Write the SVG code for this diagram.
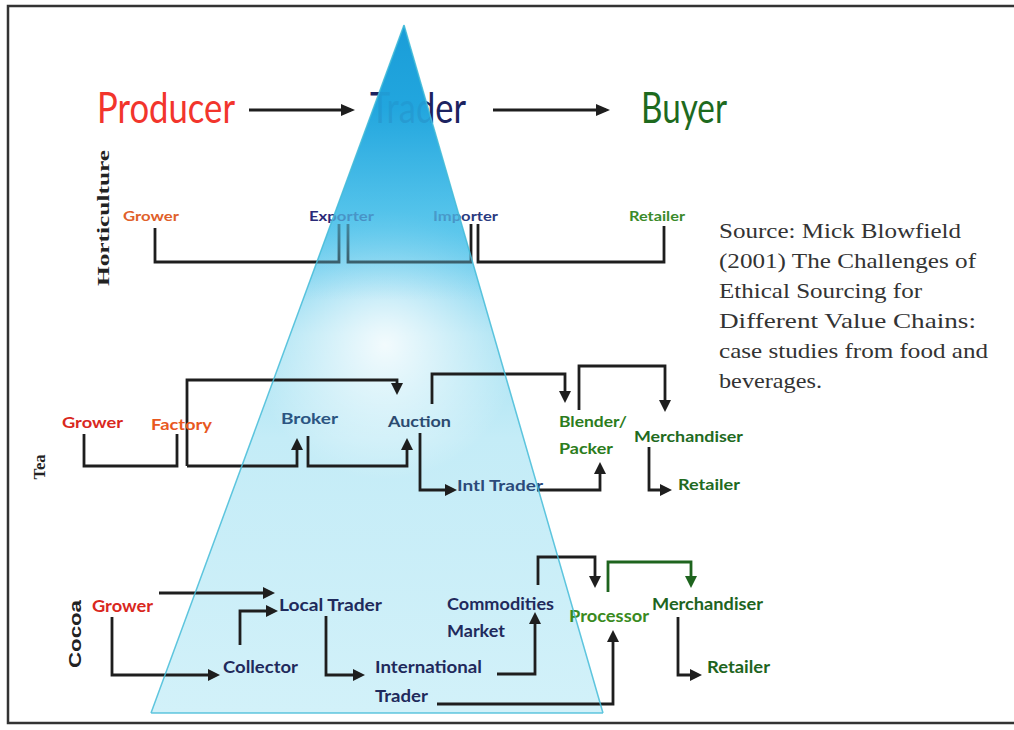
<svg xmlns="http://www.w3.org/2000/svg" width="1014" height="730" viewBox="0 0 1014 730">
<defs>
<style>
.n{font-family:Lato,"Liberation Sans",sans-serif;font-weight:bold}
.h{font-family:Lato,"Liberation Sans",sans-serif;font-size:42px}
.src{font-family:"Liberation Serif","Times New Roman",serif;font-size:21px;fill:#333}
.c{fill:none;stroke:#1e1e1e;stroke-width:2.8;stroke-linejoin:miter}
.g{fill:none;stroke:#1e641e;stroke-width:2.8}
.lbl{font-family:"Liberation Serif","Times New Roman",serif;font-weight:bold;fill:#222}
</style>
<marker id="ah" markerWidth="12" markerHeight="12" refX="8" refY="6" orient="auto" markerUnits="userSpaceOnUse"><path d="M0,0 L12,6 L0,12 Z" fill="#1e1e1e"/></marker>
<marker id="ahg" markerWidth="12" markerHeight="12" refX="8" refY="6" orient="auto" markerUnits="userSpaceOnUse"><path d="M0,0 L12,6 L0,12 Z" fill="#1e641e"/></marker>
<marker id="ahL" markerWidth="14" markerHeight="14" refX="10" refY="7" orient="auto" markerUnits="userSpaceOnUse"><path d="M0,1 L14,7 L0,13 Z" fill="#1e1e1e"/></marker>
<linearGradient id="triBg" x1="0" y1="25" x2="0" y2="713" gradientUnits="userSpaceOnUse">
<stop offset="0" stop-color="#1a9dd8"/>
<stop offset="0.12" stop-color="#22a6de"/>
<stop offset="0.3" stop-color="#5ac6ec"/>
<stop offset="0.45" stop-color="#a8e2f3"/>
<stop offset="0.6" stop-color="#c4ecf7"/>
<stop offset="1" stop-color="#d2f1f9"/>
</linearGradient>
<linearGradient id="triTop" x1="0" y1="25" x2="0" y2="713" gradientUnits="userSpaceOnUse">
<stop offset="0" stop-color="#1a9dd8" stop-opacity="1"/>
<stop offset="0.12" stop-color="#22a6de" stop-opacity="0.92"/>
<stop offset="0.275" stop-color="#55c4eb" stop-opacity="0.7"/>
<stop offset="0.35" stop-color="#6ccdee" stop-opacity="0.35"/>
<stop offset="0.4" stop-color="#7fd4f0" stop-opacity="0"/>
<stop offset="1" stop-color="#7fd4f0" stop-opacity="0"/>
</linearGradient>
<radialGradient id="glow" cx="385" cy="345" r="135" gradientUnits="userSpaceOnUse">
<stop offset="0" stop-color="#fff" stop-opacity="0.85"/>
<stop offset="1" stop-color="#fff" stop-opacity="0"/>
</radialGradient>
<clipPath id="triClip"><path d="M404,25 L151,713 L603,713 Z"/></clipPath>
</defs>
<rect x="0" y="0" width="1014" height="730" fill="#fff"/>
<rect x="8" y="6" width="1030" height="717" fill="none" stroke="#333" stroke-width="2.5"/>

<g id="pyramid-back">
<path d="M404,25 L151,713 L603,713 Z" fill="url(#triBg)"/>
<ellipse cx="385" cy="345" rx="135" ry="135" fill="url(#glow)" clip-path="url(#triClip)"/>
</g>

<g id="axis-labels">
<text class="lbl" font-size="16" transform="translate(109,218) rotate(-90)" text-anchor="middle" textLength="136" lengthAdjust="spacingAndGlyphs">Horticulture</text>
<text class="lbl" font-size="17" transform="translate(45,467) rotate(-90)" text-anchor="middle" textLength="25" lengthAdjust="spacingAndGlyphs">Tea</text>
<text font-family="'Liberation Sans',sans-serif" font-weight="bold" font-size="17" fill="#222" transform="translate(81,634) rotate(-90)" text-anchor="middle" textLength="68" lengthAdjust="spacingAndGlyphs">Cocoa</text>
</g>

<g id="connectors">
<path class="c" d="M249,110 H351" marker-end="url(#ahL)"/>
<path class="c" d="M493,110 H606" marker-end="url(#ahL)"/>
<path class="c" d="M155,228 V262 H339 V224"/>
<path class="c" d="M348,224 V262 H471 V224"/>
<path class="c" d="M478,224 V262 H664 V226"/>
<path class="c" d="M84,434 V466 H177 V434"/>
<path class="c" d="M187,466 V380 H397 V391" marker-end="url(#ah)"/>
<path class="c" d="M187,466 H297 V442" marker-end="url(#ah)"/>
<path class="c" d="M308,436 V466 H407 V442" marker-end="url(#ah)"/>
<path class="c" d="M420,433 V490 H453" marker-end="url(#ah)"/>
<path class="c" d="M432,404 V374 H565 V399" marker-end="url(#ah)"/>
<path class="c" d="M537,490 H600 V466" marker-end="url(#ah)"/>
<path class="c" d="M579,410 V366 H665 V408" marker-end="url(#ah)"/>
<path class="c" d="M649,447 V490 H668" marker-end="url(#ah)"/>
<path class="c" d="M159,593 H271" marker-end="url(#ah)"/>
<path class="c" d="M240,645 V611 H274" marker-end="url(#ah)"/>
<path class="c" d="M112,617 V675 H216" marker-end="url(#ah)"/>
<path class="c" d="M326,616 V675 H361" marker-end="url(#ah)"/>
<path class="c" d="M497,674 H535 V616" marker-end="url(#ah)"/>
<path class="c" d="M538,585 V557 H595 V584" marker-end="url(#ah)"/>
<path class="c" d="M437,704 H613 V634" marker-end="url(#ah)"/>
<path class="g" d="M608,592 V562 H691 V584" marker-end="url(#ahg)"/>
<path class="c" d="M678,617 V675 H698" marker-end="url(#ah)"/>
</g>

<g id="head-producer"><text class="h" x="97" y="123" fill="#f2352c" textLength="138" lengthAdjust="spacingAndGlyphs">Producer</text></g>
<g id="head-trader"><text class="h" x="370" y="123" fill="#1c2360" textLength="96" lengthAdjust="spacingAndGlyphs">Trader</text></g>
<g id="head-buyer"><text class="h" x="641" y="123" fill="#1e6a1e" textLength="86" lengthAdjust="spacingAndGlyphs">Buyer</text></g>

<g id="h-grower"><text class="n" font-size="13.5" x="123" y="221" fill="#e0602a" textLength="56" lengthAdjust="spacingAndGlyphs">Grower</text></g>
<g id="h-exporter"><text class="n" font-size="13.5" x="309" y="221" fill="#2a2a78" textLength="65" lengthAdjust="spacingAndGlyphs">Exporter</text></g>
<g id="h-importer"><text class="n" font-size="13.5" x="433" y="221" fill="#2a3a80" textLength="65" lengthAdjust="spacingAndGlyphs">Importer</text></g>
<g id="h-retailer"><text class="n" font-size="13.5" x="629" y="221" fill="#3a8a2a" textLength="56" lengthAdjust="spacingAndGlyphs">Retailer</text></g>

<g id="t-grower"><text class="n" font-size="16" x="62" y="428" fill="#d9281e" textLength="61" lengthAdjust="spacingAndGlyphs">Grower</text></g>
<g id="t-factory"><text class="n" font-size="16" x="151" y="430" fill="#e8581e" textLength="61" lengthAdjust="spacingAndGlyphs">Factory</text></g>
<g id="t-broker"><text class="n" font-size="16" x="281" y="424" fill="#2b5582" textLength="57" lengthAdjust="spacingAndGlyphs">Broker</text></g>
<g id="t-auction"><text class="n" font-size="16" x="388" y="427" fill="#2b4a70" textLength="63" lengthAdjust="spacingAndGlyphs">Auction</text></g>
<g id="t-blender"><text class="n" font-size="16" x="559" y="427" fill="#2c7c1c" textLength="68" lengthAdjust="spacingAndGlyphs">Blender/</text><text class="n" font-size="16" x="559" y="454" fill="#2c7c1c" textLength="54" lengthAdjust="spacingAndGlyphs">Packer</text></g>
<g id="t-merch"><text class="n" font-size="16" x="634" y="442" fill="#216a1e" textLength="109" lengthAdjust="spacingAndGlyphs">Merchandiser</text></g>
<g id="t-intl"><text class="n" font-size="16" x="457" y="491" fill="#2b4a7a" textLength="86" lengthAdjust="spacingAndGlyphs">Intl Trader</text></g>
<g id="t-retailer"><text class="n" font-size="16" x="678" y="490" fill="#216a1e" textLength="62" lengthAdjust="spacingAndGlyphs">Retailer</text></g>

<g id="c-grower"><text class="n" font-size="17" x="92" y="612" fill="#d9281e" textLength="61" lengthAdjust="spacingAndGlyphs">Grower</text></g>
<g id="c-local"><text class="n" font-size="17" x="279" y="611" fill="#1f2a5c" textLength="103" lengthAdjust="spacingAndGlyphs">Local Trader</text></g>
<g id="c-collector"><text class="n" font-size="17" x="223" y="673" fill="#1f2a5c" textLength="75" lengthAdjust="spacingAndGlyphs">Collector</text></g>
<g id="c-intl"><text class="n" font-size="17" x="375" y="673" fill="#1f2a5c" textLength="107" lengthAdjust="spacingAndGlyphs">International</text><text class="n" font-size="17" x="375" y="702" fill="#1f2a5c" textLength="53" lengthAdjust="spacingAndGlyphs">Trader</text></g>
<g id="c-commod"><text class="n" font-size="17" x="447" y="610" fill="#1f2a5c" textLength="107" lengthAdjust="spacingAndGlyphs">Commodities</text><text class="n" font-size="17" x="447" y="637" fill="#1f2a5c" textLength="58" lengthAdjust="spacingAndGlyphs">Market</text></g>
<g id="c-processor"><text class="n" font-size="17" x="569" y="622" fill="#3a8a1e" textLength="80" lengthAdjust="spacingAndGlyphs">Processor</text></g>
<g id="c-merch"><text class="n" font-size="17" x="652" y="610" fill="#1e641e" textLength="111" lengthAdjust="spacingAndGlyphs">Merchandiser</text></g>
<g id="c-retailer"><text class="n" font-size="17" x="707" y="673" fill="#1e641e" textLength="63" lengthAdjust="spacingAndGlyphs">Retailer</text></g>

<g id="pyramid-front">
<path d="M404,25 L151,713 L603,713 Z" fill="url(#triTop)"/>
<path d="M404,25 L151,713 M404,25 L603,713 M151,713 H603" fill="none" stroke="#45bcd8" stroke-width="1.5" stroke-opacity="0.85"/>
</g>

<g id="source">
<text class="src" x="719" y="238" textLength="242" lengthAdjust="spacingAndGlyphs">Source: Mick Blowfield</text>
<text class="src" x="719" y="268" textLength="257" lengthAdjust="spacingAndGlyphs">(2001) The Challenges of</text>
<text class="src" x="719" y="298" textLength="203" lengthAdjust="spacingAndGlyphs">Ethical Sourcing for</text>
<text class="src" x="719" y="328" textLength="257" lengthAdjust="spacingAndGlyphs">Different Value Chains:</text>
<text class="src" x="719" y="358" textLength="269" lengthAdjust="spacingAndGlyphs">case studies from food and</text>
<text class="src" x="719" y="388" textLength="103" lengthAdjust="spacingAndGlyphs">beverages.</text>
</g>
</svg>
